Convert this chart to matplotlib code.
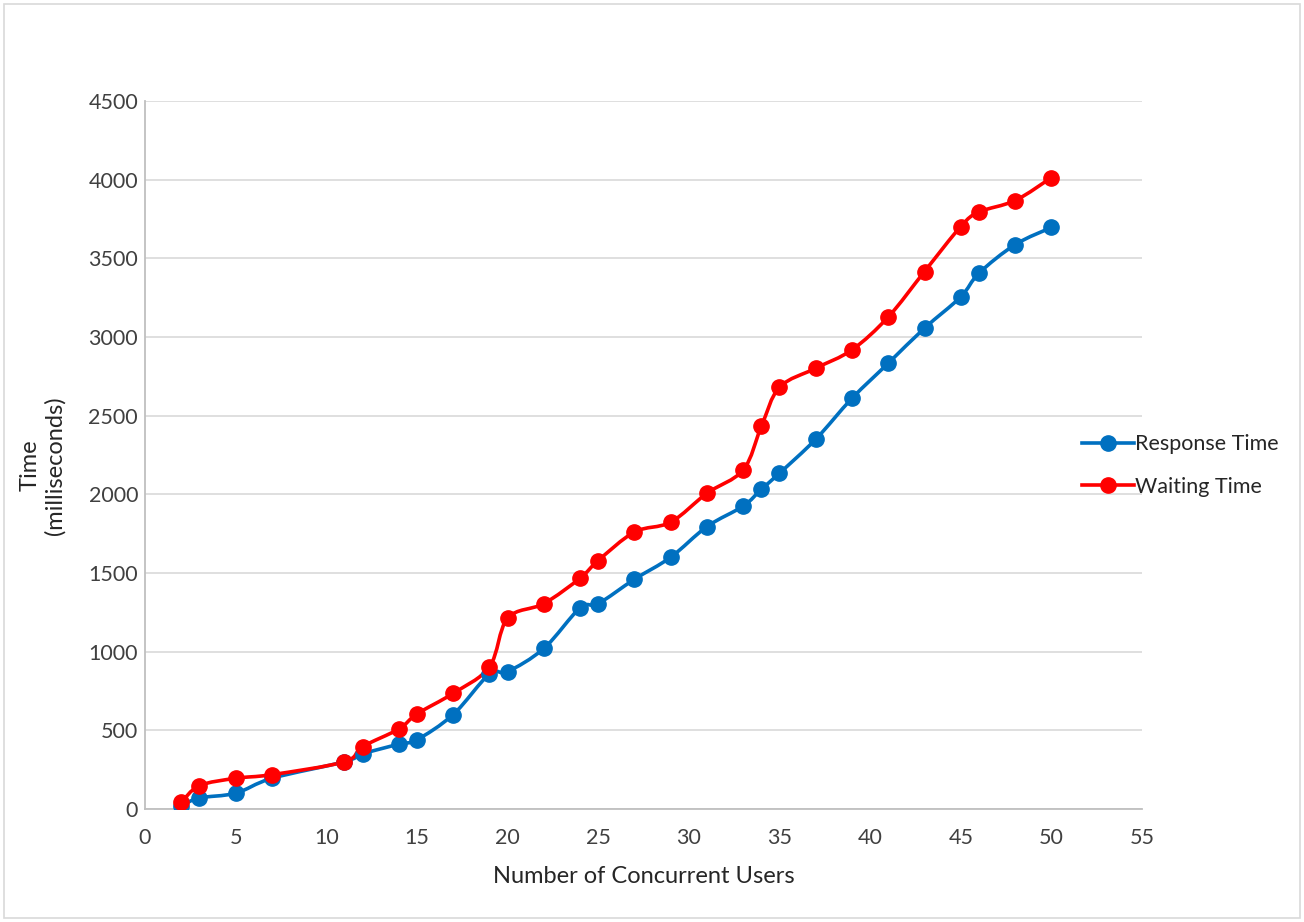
import numpy as np
import matplotlib.pyplot as plt
from matplotlib.path import Path
from matplotlib.patches import PathPatch, Rectangle
from matplotlib.lines import Line2D

plt.rcParams['font.family'] = ['Lato', 'DejaVu Sans']

users = [2, 3, 5, 7, 11, 12, 14, 15, 17, 19, 20, 22, 24, 25, 27, 29, 31,
         33, 34, 35, 37, 39, 41, 43, 45, 46, 48, 50]
response_time = [20, 70, 100, 195, 300, 350, 412, 440, 600, 858, 873, 1020,
                 1278, 1305, 1460, 1600, 1795, 1925, 2032, 2134, 2350, 2610,
                 2833, 3056, 3255, 3405, 3587, 3696]
waiting_time = [42, 148, 195, 218, 300, 396, 508, 604, 735, 903, 1212, 1305,
                1467, 1579, 1760, 1823, 2007, 2155, 2432, 2680, 2801, 2918,
                3127, 3416, 3702, 3794, 3867, 4013]

blue = '#0070C0'
red = '#FF0000'


def smooth_path(x, y):
    # cubic Bezier through every point, Catmull-Rom style tangents
    p = np.column_stack([x, y]).astype(float)
    n = len(p)
    verts = [p[0]]
    codes = [Path.MOVETO]
    for i in range(n - 1):
        prev = p[i - 1] if i > 0 else p[i]
        nxt = p[i + 2] if i + 2 < n else p[i + 1]
        c1 = p[i] + (p[i + 1] - prev) / 6.0
        c2 = p[i + 1] - (nxt - p[i]) / 6.0
        verts += [c1, c2, p[i + 1]]
        codes += [Path.CURVE4] * 3
    return Path(verts, codes)


fig = plt.figure(figsize=(13.04, 9.22), dpi=100)
ax = fig.add_axes([0.1112, 0.1226, 0.7646, 0.7679])

for ys, col in [(response_time, blue), (waiting_time, red)]:
    ax.add_patch(PathPatch(smooth_path(users, ys), fill=False, edgecolor=col,
                           linewidth=2.6, capstyle='round', joinstyle='round',
                           zorder=3))
    ax.plot(users, ys, 'o', color=col, markersize=11, zorder=4)

ax.set_xlim(0, 55)
ax.set_ylim(0, 4500)
ax.set_xticks(np.arange(0, 56, 5))
ax.set_yticks(np.arange(0, 4501, 500))
ax.tick_params(length=0, labelsize=15.5, colors='#404040')
ax.tick_params(axis='y', pad=5)
ax.tick_params(axis='x', pad=14)
ax.grid(axis='y', color='#D9D9D9', linewidth=1.2)
ax.set_axisbelow(True)
for side in ['top', 'right']:
    ax.spines[side].set_visible(False)
for side in ['left', 'bottom']:
    ax.spines[side].set_color('#BFBFBF')
    ax.spines[side].set_linewidth(1.3)

ax.set_xlabel('Number of Concurrent Users', fontsize=17, color='#262626',
              labelpad=13)
fig.text(0.033, 0.495, 'Time\n(milliseconds)', rotation=90, fontsize=17,
         color='#262626', ha='center', va='center', multialignment='center')

handles = [
    Line2D([], [], color=blue, linewidth=2.6, marker='o', markersize=11),
    Line2D([], [], color=red, linewidth=2.6, marker='o', markersize=11),
]
fig.legend(handles, ['Response Time', 'Waiting Time'], loc='center left',
           bbox_to_anchor=(0.815, 0.495), frameon=False, fontsize=15.5,
           handlelength=2.4, handletextpad=0.05, labelspacing=1.05,
           labelcolor='#262626')

fig.add_artist(Rectangle((0.003, 0.004), 0.994, 0.992, transform=fig.transFigure,
                         fill=False, edgecolor='#D9D9D9', linewidth=1.2))

fig.savefig('out.png', dpi=100)
